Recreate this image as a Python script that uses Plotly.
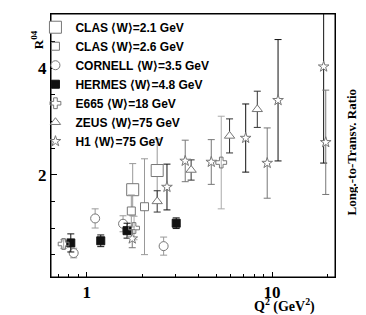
import plotly.graph_objects as go

# ---- data (Q^2 in GeV^2, R^04, symmetric error) ----
clas21_q2 = [1.77, 2.40]
clas21_r = [1.72, 2.08]
clas21_e = [0.49, 0.59]

clas26_q2 = [1.74, 2.05]
clas26_r = [1.32, 1.40]
clas26_e = [0.30, 0.90]

cornell_q2 = [0.85, 1.11, 1.57, 2.60]
cornell_r = [0.53, 1.18, 1.08, 0.66]
cornell_e = [0.09, 0.18, 0.15, 0.17]

hermes_q2 = [0.82, 1.19, 1.65, 3.04]
hermes_r = [0.72, 0.76, 0.95, 1.09]
hermes_e = [0.17, 0.11, 0.14, 0.10]

e665_q2 = [0.75, 1.80, 5.32]
e665_r = [0.70, 1.00, 2.23]
e665_e = [0.08, 0.22, 0.87]

zeus_q2 = [2.40, 3.66, 5.90, 8.33]
zeus_r = [1.50, 2.09, 2.73, 3.23]
zeus_e = [0.20, 0.19, 0.32, 0.34]

h1a_q2 = [2.71, 7.21, 10.78, 19.0]
h1a_r = [1.77, 2.69, 3.40, 4.03]
h1a_e = [0.43, 0.64, 1.14, 1.81]

h1b_q2 = [1.76, 3.40, 4.70, 9.42, 19.5]
h1b_r = [0.80, 2.26, 2.24, 2.22, 2.61]
h1b_e = [0.17, 0.39, 0.42, 0.66, 0.98]

x_ticks = [1, 10]
x_tick_text = ["1", "10"]
x_minor = [0.7, 0.8, 0.9, 2, 3, 4, 5, 6, 7, 8, 9, 20]
y_ticks = [2, 4]
y_tick_text = ["2", "4"]
y_minor = [0.5, 1.0, 1.5, 2.5, 3.0, 3.5, 4.5]

# axis ranges / plot size
W, H = 366, 315
ML, MR, MT, MB = 43, 39, 6, 46
XR = [-0.193, 1.340]          # log10 range
YR = [0.08, 5.02]
PW, PH = W - ML - MR, H - MT - MB
x_per_px = (XR[1] - XR[0]) / PW
y_per_px = (YR[1] - YR[0]) / PH

fig = go.Figure()

def add(name, q2, r, e, symbol, size, mcolor, fill, ecolor, show=True):
    fig.add_trace(go.Scatter(
        x=q2, y=r, mode="markers", name=name, showlegend=show,
        marker=dict(symbol=symbol, size=size, color=fill,
                    line=dict(color=mcolor, width=1)),
        error_y=dict(type="data", array=e, visible=True, color=ecolor,
                     thickness=1, width=3.5),
    ))

add("CLAS ⟨W⟩=2.1 GeV", clas21_q2, clas21_r, clas21_e, "square", 12, "#777", "white", "#999")
add("CLAS ⟨W⟩=2.6 GeV", clas26_q2, clas26_r, clas26_e, "square", 8, "#777", "white", "#999")
add("CORNELL ⟨W⟩=3.5 GeV", cornell_q2, cornell_r, cornell_e, "circle", 9, "#777", "white", "#999")
add("HERMES ⟨W⟩=4.8 GeV", hermes_q2, hermes_r, hermes_e, "square", 8, "#111", "#111", "#111")
add("E665 ⟨W⟩=18 GeV", e665_q2, e665_r, e665_e, "cross-open", 9, "#777", "#777", "#aaa")
add("ZEUS ⟨W⟩=75 GeV", zeus_q2, zeus_r, zeus_e, "triangle-up", 9, "#777", "white", "#333")
add("H1 ⟨W⟩=75 GeV", h1a_q2, h1a_r, h1a_e, "star", 8, "#777", "white", "#111")
add("H1 b", h1b_q2, h1b_r, h1b_e, "star", 8, "#777", "white", "#777", show=False)

serif_bold = dict(family="Liberation Serif, Times New Roman, serif", color="black", weight="bold")

axis_common = dict(
    ticks="inside", tickcolor="black", tickwidth=1,
    showline=True, linecolor="black", linewidth=1, mirror=True,
    showgrid=False, zeroline=False,
)

fig.update_layout(
    width=W, height=H,
    margin=dict(l=ML, r=MR, t=MT, b=MB, autoexpand=False),
    paper_bgcolor="white", plot_bgcolor="white",
    showlegend=True,
    legend=dict(xref="container", yref="container", x=0.075, y=0.985,
                xanchor="left", yanchor="top",
                bgcolor="rgba(0,0,0,0)", borderwidth=0,
                font=dict(family="Liberation Sans, Arial, sans-serif", size=12,
                          color="black", weight="bold"),
                itemwidth=30, tracegroupgap=0),
    xaxis=dict(type="log", range=XR,
               tickmode="array", tickvals=x_ticks, ticktext=x_tick_text,
               ticklen=5,
               minor=dict(tickmode="array", tickvals=x_minor, ticks="inside",
                          ticklen=3, tickcolor="black", showgrid=False),
               tickfont=dict(size=17, **serif_bold),
               **axis_common),
    yaxis=dict(range=YR,
               tickmode="array", tickvals=y_ticks, ticktext=y_tick_text,
               ticklen=6,
               minor=dict(tickmode="array", tickvals=y_minor, ticks="inside",
                          ticklen=4, tickcolor="black", showgrid=False),
               tickfont=dict(size=17, **serif_bold),
               **axis_common),
    shapes=[dict(type="rect", xref="paper", yref="paper", x0=0, y0=0, x1=1, y1=1,
                 line=dict(color="black", width=1), fillcolor="rgba(0,0,0,0)",
                 layer="above")],
    annotations=[
        dict(text="R<sup>04</sup>", xref="paper", yref="paper",
             x=-0.082, y=0.947, showarrow=False, textangle=-90,
             font=dict(size=13, **serif_bold)),
        dict(text="Q<sup>2</sup> (GeV<sup>2</sup>)", xref="paper", yref="paper",
             x=0.935, y=-0.152, showarrow=False,
             font=dict(size=14, **serif_bold)),
        dict(text="Long.-to-Transv. Ratio", xref="paper", yref="paper",
             x=1.09, y=0.723, showarrow=False, textangle=-90,
             font=dict(size=13, **serif_bold)),
        dict(text="1", xref="paper", yref="paper",
             x=1.118, y=0.355, showarrow=False,
             font=dict(size=17, **serif_bold)),
    ],
)

fig.write_html("out.html")
